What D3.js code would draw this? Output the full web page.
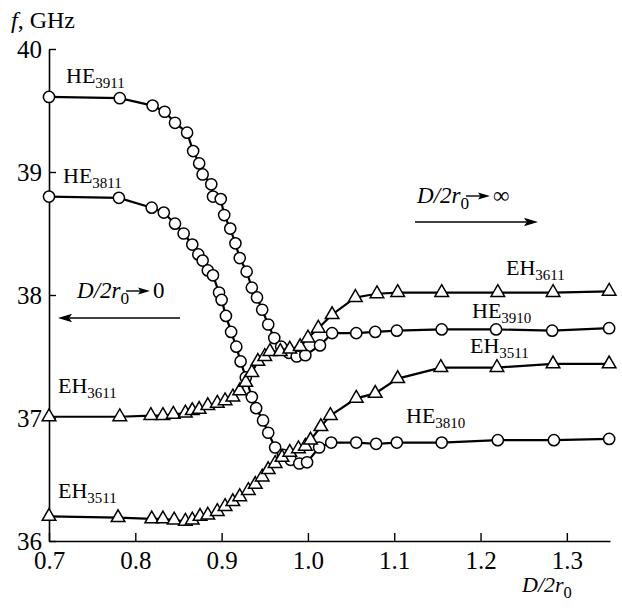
<!DOCTYPE html>
<html><head><meta charset="utf-8">
<script src="https://cdn.jsdelivr.net/npm/d3@7"></script>
<style>
body{margin:0;background:#fff}
svg{display:block}
svg text{font-family:'Liberation Serif','Times New Roman',Times,'DejaVu Serif',serif !important;fill:#000}
</style></head><body>
<svg id="c" width="622" height="612"></svg>
<script>
// ---- data ----
const xTicks = [0.7, 0.8, 0.9, 1.0, 1.1, 1.2, 1.3];
const yTicks = [36, 37, 38, 39, 40];

// circles: HE3911 -> HE3910
const HE39 = [[0.700,39.61],[0.782,39.60],[0.820,39.54],[0.834,39.49],[0.846,39.40],[0.860,39.32],
[0.867,39.17],[0.874,39.07],[0.878,38.98],[0.888,38.90],[0.890,38.80],[0.899,38.78],[0.903,38.65],
[0.910,38.54],[0.916,38.42],[0.921,38.30],[0.929,38.19],[0.935,38.06],[0.941,37.98],[0.947,37.88],
[0.954,37.76],[0.961,37.65],[0.969,37.58],[0.978,37.53],[0.987,37.50],[0.997,37.51],[1.014,37.59],
[1.028,37.69],[1.056,37.69],[1.078,37.70],[1.103,37.71],[1.155,37.72],[1.218,37.72],[1.283,37.71],[1.349,37.73]];
// circles: HE3811 -> HE3810
const HE38 = [[0.700,38.80],[0.781,38.79],[0.819,38.71],[0.833,38.67],[0.846,38.58],[0.856,38.50],
[0.866,38.41],[0.873,38.33],[0.878,38.28],[0.884,38.20],[0.890,38.16],[0.897,38.02],[0.900,37.96],
[0.905,37.83],[0.911,37.70],[0.917,37.58],[0.922,37.46],[0.928,37.33],[0.935,37.17],[0.940,37.08],
[0.948,36.98],[0.954,36.88],[0.962,36.76],[0.971,36.70],[0.980,36.66],[0.990,36.63],[0.999,36.64],
[1.013,36.76],[1.027,36.80],[1.056,36.80],[1.079,36.79],[1.103,36.80],[1.155,36.80],[1.220,36.82],[1.285,36.82],[1.349,36.83]];
// triangles: EH3611
const EH36 = [[0.700,37.01],[0.782,37.01],[0.818,37.02],[0.832,37.02],[0.844,37.03],[0.858,37.04],
[0.866,37.06],[0.874,37.07],[0.884,37.10],[0.895,37.12],[0.904,37.14],[0.913,37.17],[0.921,37.22],
[0.928,37.29],[0.935,37.37],[0.942,37.46],[0.950,37.50],[0.956,37.54],[0.968,37.54],[0.979,37.56],
[0.991,37.58],[1.000,37.65],[1.012,37.73],[1.028,37.84],[1.055,37.98],[1.080,38.01],[1.104,38.02],
[1.155,38.02],[1.220,38.02],[1.284,38.02],[1.349,38.03]];
// triangles: EH3511
const EH35 = [[0.700,36.20],[0.780,36.19],[0.819,36.18],[0.832,36.18],[0.845,36.17],[0.858,36.16],
[0.866,36.17],[0.875,36.20],[0.884,36.21],[0.895,36.24],[0.904,36.28],[0.913,36.32],[0.921,36.36],
[0.931,36.41],[0.939,36.46],[0.947,36.52],[0.954,36.58],[0.962,36.63],[0.970,36.68],[0.979,36.72],
[0.989,36.75],[0.997,36.77],[1.003,36.82],[1.015,36.93],[1.026,37.02],[1.056,37.16],[1.078,37.20],
[1.104,37.32],[1.154,37.41],[1.219,37.41],[1.284,37.44],[1.349,37.44]];

const series = [
  {data: HE39, marker: "circle"},
  {data: HE38, marker: "circle"},
  {data: EH36, marker: "triangle"},
  {data: EH35, marker: "triangle"}
];

// ---- chart ----
const FONT = "'Liberation Serif','Times New Roman',Times,'DejaVu Serif',serif";
const svg = d3.select("#c");
const x = d3.scaleLinear().domain([0.7, 1.35]).range([49, 610]);
const y = d3.scaleLinear().domain([36, 40]).range([541, 49]);

const fs = 25;
const gx = svg.append("g").attr("transform", `translate(0,${y(36)})`)
  .call(d3.axisBottom(x).tickValues(xTicks).tickFormat(d3.format(".1f")).tickSizeInner(-8).tickSizeOuter(0).tickPadding(10));
const gy = svg.append("g").attr("transform", `translate(${x(0.7)},0)`)
  .call(d3.axisLeft(y).tickValues(yTicks).tickFormat(d3.format("d")).tickSizeInner(-7).tickSizeOuter(0).tickPadding(7));
[gx, gy].forEach(g => {
  g.attr("font-family", FONT);
  g.select(".domain").attr("stroke", "#000").attr("stroke-width", 1.6);
  g.selectAll(".tick line").attr("stroke", "#000").attr("stroke-width", 1.4);
  g.selectAll(".tick text").attr("font-family", FONT).attr("font-size", fs).attr("fill", "#000");
});
gx.selectAll(".tick text").attr("dy", "0.72em");
gy.selectAll(".tick text").attr("dy", "0.33em");

const line = d3.line().x(d => x(d[0])).y(d => y(d[1]));
series.forEach(s => {
  svg.append("path").datum(s.data).attr("d", line)
    .attr("fill", "none").attr("stroke", "#000").attr("stroke-width", 2.2);
});
const tri = d3.symbol().type(d3.symbolTriangle).size(80);
series.forEach(s => {
  const g = svg.append("g");
  if (s.marker === "circle") {
    g.selectAll("circle").data(s.data).join("circle")
      .attr("cx", d => x(d[0])).attr("cy", d => y(d[1])).attr("r", 5.6)
      .attr("fill", "#fff").attr("stroke", "#000").attr("stroke-width", 1.5);
  } else {
    g.selectAll("path").data(s.data).join("path")
      .attr("d", tri).attr("transform", d => `translate(${x(d[0])},${y(d[1])})`)
      .attr("fill", "#fff").attr("stroke", "#000").attr("stroke-width", 1.5);
  }
});

// ---- labels ----
function txt(px, py, size) {
  return svg.append("text").attr("x", px).attr("y", py).attr("font-size", size).attr("font-family", FONT);
}
function modeLabel(px, py, main, sub) {
  const t = txt(px, py, 22);
  t.append("tspan").text(main);
  t.append("tspan").attr("font-size", 15).attr("dy", 5).text(sub);
}
modeLabel(66, 83, "HE", "3911");
modeLabel(63, 183, "HE", "3811");
modeLabel(58, 393, "EH", "3611");
modeLabel(58, 498, "EH", "3511");
modeLabel(506, 275, "EH", "3611");
modeLabel(472, 318, "HE", "3910");
modeLabel(470, 353, "EH", "3511");
modeLabel(406, 423, "HE", "3810");

// axis titles
const ft = txt(11, 28, 24);
ft.append("tspan").attr("font-style", "italic").text("f");
ft.append("tspan").text(", GHz");

function dLabel(px, py, size) {
  const t = txt(px, py, size);
  t.append("tspan").attr("font-style", "italic").text("D");
  t.append("tspan").attr("font-style", "italic").text("/2");
  t.append("tspan").attr("font-style", "italic").text("r");
  t.append("tspan").attr("font-size", size * 0.75).attr("dy", 6).text("0");
  return t;
}
dLabel(522, 592, 22);

function arrow(x1, x2, yy, head) {
  const dir = Math.sign(x2 - x1);
  svg.append("line").attr("x1", x1).attr("x2", x2 - dir * head * 0.8).attr("y1", yy).attr("y2", yy)
    .attr("stroke", "#000").attr("stroke-width", 1.4);
  svg.append("path").attr("d", `M${x2},${yy} L${x2 - dir * head},${yy - head * 0.3} L${x2 - dir * head * 0.8},${yy} L${x2 - dir * head},${yy + head * 0.3} Z`)
    .attr("fill", "#000");
}
// D/2r0 -> infinity
dLabel(417, 203, 23);
arrow(466, 490, 196, 12);
txt(493, 203, 23).text("∞");
arrow(415, 538, 222, 14);

// D/2r0 -> 0
dLabel(77, 298, 23);
arrow(126, 150, 291, 12);
txt(153, 298, 23).text("0");
arrow(180, 58, 318, 14);
</script></body></html>
